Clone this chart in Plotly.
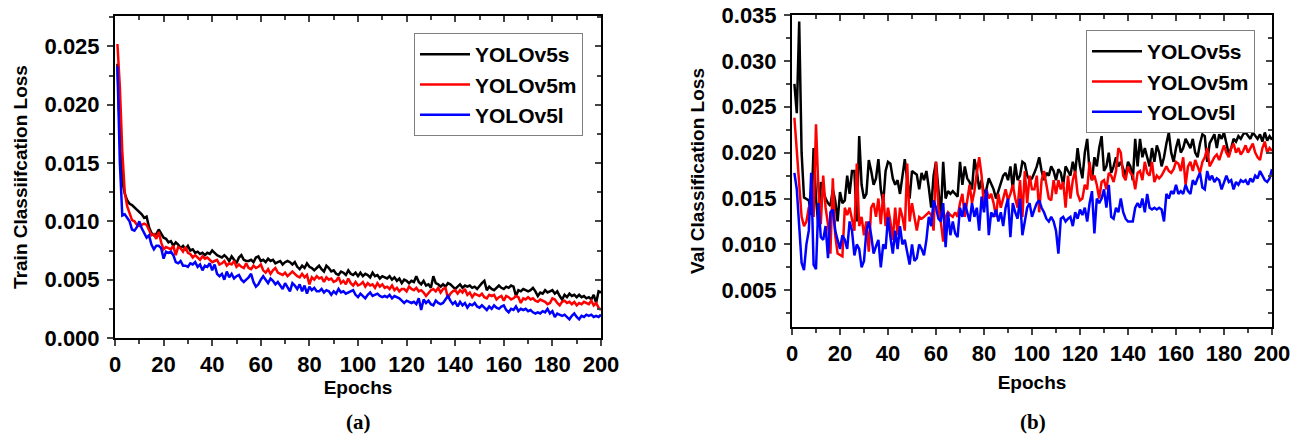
import plotly.graph_objects as go

epochs = list(range(1, 201))

# Training classification loss per epoch
train_v5s = [
    0.0235, 0.0175, 0.0135, 0.0124, 0.0118, 0.0115, 0.0114, 0.0112, 0.0110, 0.0108,
    0.0106, 0.0103, 0.0104, 0.0095, 0.0090, 0.0088, 0.0089, 0.0093, 0.0090, 0.0086,
    0.0085, 0.0082, 0.0083, 0.0079, 0.0082, 0.0080, 0.0077, 0.0079, 0.0076, 0.0079,
    0.0075, 0.0076, 0.0073, 0.0074, 0.0072, 0.0073, 0.0071, 0.0073, 0.0072, 0.0075,
    0.0073, 0.0071, 0.0070, 0.0069, 0.0071, 0.0069, 0.0066, 0.0070, 0.0067, 0.0064,
    0.0069, 0.0071, 0.0067, 0.0066, 0.0066, 0.0067, 0.0065, 0.0069, 0.0070, 0.0066,
    0.0067, 0.0065, 0.0068, 0.0066, 0.0067, 0.0064, 0.0065, 0.0066, 0.0063, 0.0065,
    0.0066, 0.0065, 0.0063, 0.0065, 0.0061, 0.0059, 0.0062, 0.0060, 0.0064, 0.0061,
    0.0060, 0.0058, 0.0060, 0.0062, 0.0059, 0.0057, 0.0062, 0.0060, 0.0057, 0.0058,
    0.0055, 0.0054, 0.0057, 0.0056, 0.0054, 0.0058, 0.0055, 0.0054, 0.0056, 0.0053,
    0.0056, 0.0053, 0.0055, 0.0054, 0.0052, 0.0056, 0.0053, 0.0054, 0.0051, 0.0053,
    0.0052, 0.0051, 0.0053, 0.0050, 0.0052, 0.0049, 0.0051, 0.0047, 0.0050, 0.0049,
    0.0047, 0.0049, 0.0048, 0.0053, 0.0048, 0.0046, 0.0049, 0.0045, 0.0046, 0.0043,
    0.0053, 0.0047, 0.0046, 0.0044, 0.0046, 0.0044, 0.0047, 0.0046, 0.0044, 0.0042,
    0.0044, 0.0046, 0.0043, 0.0045, 0.0044, 0.0045, 0.0043, 0.0044, 0.0042, 0.0045,
    0.0047, 0.0049, 0.0041, 0.0044, 0.0042, 0.0041, 0.0043, 0.0045, 0.0043, 0.0042,
    0.0044, 0.0043, 0.0045, 0.0044, 0.0036, 0.0041, 0.0040, 0.0042, 0.0041, 0.0040,
    0.0041, 0.0043, 0.0040, 0.0036, 0.0039, 0.0038, 0.0041, 0.0039, 0.0040, 0.0041,
    0.0038, 0.0040, 0.0036, 0.0033, 0.0037, 0.0035, 0.0038, 0.0036, 0.0037, 0.0035,
    0.0037, 0.0035, 0.0036, 0.0034, 0.0035, 0.0033, 0.0037, 0.0030, 0.0040, 0.0039,
]
train_v5m = [
    0.0252, 0.0215, 0.0160, 0.0125, 0.0113, 0.0106, 0.0101, 0.0100, 0.0097, 0.0096,
    0.0097, 0.0098, 0.0097, 0.0093, 0.0088, 0.0089, 0.0085, 0.0091, 0.0082, 0.0076,
    0.0078, 0.0077, 0.0076, 0.0079, 0.0071, 0.0078, 0.0077, 0.0074, 0.0078, 0.0073,
    0.0072, 0.0069, 0.0071, 0.0069, 0.0067, 0.0070, 0.0068, 0.0069, 0.0067, 0.0065,
    0.0066, 0.0067, 0.0063, 0.0064, 0.0066, 0.0062, 0.0064, 0.0063, 0.0066, 0.0061,
    0.0063, 0.0061, 0.0060, 0.0064, 0.0060, 0.0059, 0.0062, 0.0060, 0.0061, 0.0063,
    0.0058, 0.0056, 0.0059, 0.0055, 0.0058, 0.0060, 0.0056, 0.0055, 0.0054, 0.0056,
    0.0053, 0.0055, 0.0057, 0.0055, 0.0053, 0.0052, 0.0055, 0.0052, 0.0054, 0.0046,
    0.0052, 0.0050, 0.0053, 0.0051, 0.0052, 0.0048, 0.0052, 0.0050, 0.0051, 0.0048,
    0.0049, 0.0052, 0.0047, 0.0049, 0.0046, 0.0051, 0.0047, 0.0045, 0.0048, 0.0045,
    0.0046, 0.0048, 0.0044, 0.0047, 0.0045, 0.0046, 0.0043, 0.0047, 0.0044, 0.0046,
    0.0043, 0.0044, 0.0042, 0.0045, 0.0041, 0.0043, 0.0040, 0.0042, 0.0042, 0.0040,
    0.0044, 0.0042, 0.0041, 0.0043, 0.0040, 0.0041, 0.0039, 0.0036, 0.0039, 0.0041,
    0.0042, 0.0040, 0.0043, 0.0039, 0.0042, 0.0043, 0.0034, 0.0038, 0.0040, 0.0041,
    0.0038, 0.0041, 0.0039, 0.0042, 0.0037, 0.0039, 0.0035, 0.0038, 0.0037, 0.0036,
    0.0038, 0.0035, 0.0034, 0.0037, 0.0036, 0.0037, 0.0033, 0.0035, 0.0036, 0.0032,
    0.0036, 0.0035, 0.0033, 0.0034, 0.0036, 0.0035, 0.0030, 0.0034, 0.0033, 0.0035,
    0.0033, 0.0034, 0.0032, 0.0031, 0.0033, 0.0032, 0.0031, 0.0029, 0.0030, 0.0034,
    0.0033, 0.0030, 0.0028, 0.0031, 0.0032, 0.0030, 0.0031, 0.0029, 0.0031, 0.0028,
    0.0030, 0.0029, 0.0031, 0.0030, 0.0029, 0.0032, 0.0028, 0.0030, 0.0026, 0.0024,
]
train_v5l = [
    0.0233, 0.0150, 0.0105, 0.0106, 0.0103, 0.0100, 0.0093, 0.0092, 0.0095, 0.0100,
    0.0094, 0.0090, 0.0086, 0.0088, 0.0080, 0.0076, 0.0079, 0.0079, 0.0077, 0.0068,
    0.0074, 0.0073, 0.0074, 0.0071, 0.0065, 0.0064, 0.0066, 0.0062, 0.0062, 0.0061,
    0.0064, 0.0063, 0.0065, 0.0061, 0.0063, 0.0058, 0.0062, 0.0061, 0.0064, 0.0058,
    0.0063, 0.0055, 0.0053, 0.0055, 0.0050, 0.0057, 0.0052, 0.0055, 0.0051, 0.0053,
    0.0054, 0.0050, 0.0048, 0.0050, 0.0052, 0.0055, 0.0048, 0.0044, 0.0046, 0.0050,
    0.0053, 0.0050, 0.0047, 0.0051, 0.0049, 0.0046, 0.0048, 0.0045, 0.0042, 0.0047,
    0.0044, 0.0040, 0.0047, 0.0045, 0.0042, 0.0046, 0.0040, 0.0045, 0.0038, 0.0044,
    0.0041, 0.0043, 0.0040, 0.0040, 0.0042, 0.0039, 0.0041, 0.0040, 0.0037, 0.0040,
    0.0038, 0.0042, 0.0039, 0.0040, 0.0038, 0.0039, 0.0040, 0.0041, 0.0037, 0.0035,
    0.0038, 0.0036, 0.0034, 0.0037, 0.0039, 0.0036, 0.0037, 0.0038, 0.0036, 0.0035,
    0.0036, 0.0035, 0.0037, 0.0034, 0.0036, 0.0035, 0.0034, 0.0032, 0.0030, 0.0032,
    0.0031, 0.0030, 0.0031, 0.0029, 0.0034, 0.0024, 0.0033, 0.0030, 0.0032, 0.0029,
    0.0028, 0.0032, 0.0030, 0.0029, 0.0030, 0.0033, 0.0036, 0.0032, 0.0029, 0.0031,
    0.0027, 0.0031, 0.0028, 0.0030, 0.0026, 0.0029, 0.0028, 0.0030, 0.0027, 0.0026,
    0.0028, 0.0026, 0.0024, 0.0027, 0.0025, 0.0028, 0.0026, 0.0025, 0.0027, 0.0028,
    0.0024, 0.0022, 0.0025, 0.0024, 0.0027, 0.0023, 0.0025, 0.0024, 0.0025, 0.0023,
    0.0024, 0.0022, 0.0021, 0.0022, 0.0021, 0.0023, 0.0022, 0.0025, 0.0021, 0.0023,
    0.0018, 0.0021, 0.0020, 0.0019, 0.0020, 0.0018, 0.0016, 0.0019, 0.0021, 0.0018,
    0.0016, 0.0019, 0.0018, 0.0020, 0.0019, 0.0020, 0.0018, 0.0019, 0.0018, 0.0020,
]

# Validation classification loss per epoch
val_v5s = [
    0.0275, 0.0243, 0.0343, 0.0200, 0.0151, 0.0149, 0.0148, 0.0132, 0.0205, 0.0150,
    0.0120, 0.0168, 0.0160, 0.0150, 0.0145, 0.0142, 0.0160, 0.0148, 0.0125, 0.0157,
    0.0145, 0.0148, 0.0175, 0.0155, 0.0180, 0.0180, 0.0125, 0.0218, 0.0165, 0.0150,
    0.0155, 0.0192, 0.0180, 0.0165, 0.0172, 0.0193, 0.0160, 0.0145, 0.0180, 0.0190,
    0.0188, 0.0172, 0.0165, 0.0170, 0.0155, 0.0175, 0.0193, 0.0170, 0.0150, 0.0180,
    0.0178, 0.0176, 0.0160, 0.0178, 0.0170, 0.0180, 0.0162, 0.0140, 0.0175, 0.0190,
    0.0160, 0.0130, 0.0190, 0.0150, 0.0158, 0.0155, 0.0158, 0.0155, 0.0152, 0.0190,
    0.0165, 0.0185, 0.0172, 0.0168, 0.0160, 0.0193, 0.0180, 0.0160, 0.0170, 0.0155,
    0.0160, 0.0172, 0.0165, 0.0160, 0.0150, 0.0158, 0.0165, 0.0175, 0.0178, 0.0170,
    0.0185, 0.0160, 0.0188, 0.0170, 0.0175, 0.0190, 0.0188, 0.0175, 0.0170, 0.0172,
    0.0178, 0.0185, 0.0195, 0.0180, 0.0170, 0.0178, 0.0175, 0.0185, 0.0180, 0.0170,
    0.0182, 0.0178, 0.0165, 0.0185, 0.0180, 0.0175, 0.0190, 0.0178, 0.0205, 0.0185,
    0.0172, 0.0200, 0.0215, 0.0180, 0.0170, 0.0195, 0.0185, 0.0205, 0.0218, 0.0180,
    0.0185, 0.0200, 0.0178, 0.0185, 0.0195, 0.0185, 0.0190, 0.0182, 0.0175, 0.0190,
    0.0185, 0.0170, 0.0215, 0.0185, 0.0215, 0.0195, 0.0205, 0.0195, 0.0185, 0.0205,
    0.0190, 0.0208, 0.0200, 0.0185, 0.0195, 0.0210, 0.0222, 0.0200, 0.0190, 0.0205,
    0.0215, 0.0200, 0.0205, 0.0215, 0.0210, 0.0205, 0.0215, 0.0200, 0.0195, 0.0210,
    0.0220, 0.0218, 0.0190, 0.0210, 0.0215, 0.0220, 0.0205, 0.0220, 0.0215, 0.0222,
    0.0210, 0.0198, 0.0205, 0.0215, 0.0212, 0.0218, 0.0215, 0.0220, 0.0222, 0.0218,
    0.0215, 0.0222, 0.0218, 0.0215, 0.0220, 0.0212, 0.0222, 0.0213, 0.0218, 0.0214,
]
val_v5m = [
    0.0238, 0.0200, 0.0160, 0.0130, 0.0120, 0.0125, 0.0140, 0.0145, 0.0130, 0.0231,
    0.0160, 0.0122, 0.0175, 0.0140, 0.0122, 0.0090, 0.0172, 0.0110, 0.0090, 0.0088,
    0.0087, 0.0140, 0.0132, 0.0140, 0.0128, 0.0115, 0.0188, 0.0120, 0.0130, 0.0110,
    0.0125, 0.0092, 0.0140, 0.0145, 0.0130, 0.0150, 0.0122, 0.0155, 0.0120, 0.0140,
    0.0125, 0.0105, 0.0140, 0.0110, 0.0140, 0.0130, 0.0115, 0.0188, 0.0125, 0.0145,
    0.0130, 0.0115, 0.0130, 0.0128, 0.0130, 0.0133, 0.0135, 0.0132, 0.0115, 0.0190,
    0.0140, 0.0125, 0.0103, 0.0130, 0.0135, 0.0132, 0.0130, 0.0135, 0.0130, 0.0145,
    0.0155, 0.0130, 0.0150, 0.0165, 0.0145, 0.0158, 0.0178, 0.0195, 0.0175, 0.0140,
    0.0160, 0.0150, 0.0155, 0.0145, 0.0130, 0.0155, 0.0140, 0.0150, 0.0160, 0.0148,
    0.0155, 0.0165, 0.0150, 0.0140, 0.0170, 0.0130, 0.0180, 0.0145, 0.0175, 0.0160,
    0.0160, 0.0175, 0.0135, 0.0170, 0.0180, 0.0165, 0.0150, 0.0148, 0.0170, 0.0155,
    0.0170, 0.0160, 0.0168, 0.0140, 0.0175, 0.0150, 0.0170, 0.0180, 0.0155, 0.0148,
    0.0150, 0.0165, 0.0160, 0.0190, 0.0170, 0.0175, 0.0165, 0.0150, 0.0168, 0.0170,
    0.0160, 0.0178, 0.0175, 0.0168, 0.0180, 0.0205, 0.0200, 0.0175, 0.0170, 0.0185,
    0.0178, 0.0175, 0.0160, 0.0178, 0.0180, 0.0170, 0.0190, 0.0178, 0.0175, 0.0190,
    0.0168, 0.0175, 0.0172, 0.0175, 0.0180, 0.0185, 0.0180, 0.0178, 0.0182, 0.0190,
    0.0188, 0.0180, 0.0195, 0.0165, 0.0185, 0.0190, 0.0180, 0.0192, 0.0185, 0.0178,
    0.0190, 0.0195, 0.0205, 0.0185, 0.0190, 0.0195, 0.0198, 0.0192, 0.0200, 0.0208,
    0.0200, 0.0195, 0.0205, 0.0210, 0.0200, 0.0205, 0.0198, 0.0202, 0.0208, 0.0200,
    0.0205, 0.0210, 0.0200, 0.0195, 0.0192, 0.0205, 0.0212, 0.0200, 0.0205, 0.0202,
]
val_v5l = [
    0.0178, 0.0160, 0.0120, 0.0080, 0.0072, 0.0100, 0.0115, 0.0178, 0.0078, 0.0073,
    0.0145, 0.0108, 0.0105, 0.0120, 0.0085, 0.0135, 0.0138, 0.0115, 0.0105, 0.0095,
    0.0110, 0.0105, 0.0095, 0.0125, 0.0115, 0.0088, 0.0100, 0.0095, 0.0075, 0.0082,
    0.0115, 0.0125, 0.0110, 0.0090, 0.0098, 0.0105, 0.0075, 0.0100, 0.0095, 0.0130,
    0.0108, 0.0090, 0.0115, 0.0095, 0.0120, 0.0100, 0.0105, 0.0092, 0.0078, 0.0100,
    0.0082, 0.0085, 0.0100, 0.0095, 0.0088, 0.0105, 0.0130, 0.0120, 0.0148, 0.0140,
    0.0128, 0.0125, 0.0145, 0.0097, 0.0135, 0.0110, 0.0125, 0.0112, 0.0108, 0.0140,
    0.0130, 0.0145, 0.0135, 0.0125, 0.0145, 0.0130, 0.0140, 0.0115, 0.0152, 0.0135,
    0.0160, 0.0110, 0.0135, 0.0130, 0.0138, 0.0125, 0.0135, 0.0120, 0.0140, 0.0150,
    0.0108, 0.0145, 0.0135, 0.0128, 0.0150, 0.0110, 0.0125, 0.0140, 0.0145, 0.0130,
    0.0138, 0.0145, 0.0148, 0.0140, 0.0135, 0.0128, 0.0125, 0.0130, 0.0125, 0.0115,
    0.0090, 0.0128, 0.0130, 0.0125, 0.0128, 0.0130, 0.0120, 0.0135, 0.0128, 0.0138,
    0.0132, 0.0140, 0.0125, 0.0145, 0.0158, 0.0112, 0.0150, 0.0145, 0.0150, 0.0160,
    0.0140, 0.0165, 0.0130, 0.0128, 0.0140, 0.0135, 0.0150, 0.0135, 0.0128, 0.0125,
    0.0125, 0.0125, 0.0140, 0.0145, 0.0140, 0.0150, 0.0135, 0.0155, 0.0140, 0.0138,
    0.0140, 0.0138, 0.0140, 0.0138, 0.0125, 0.0155, 0.0150, 0.0158, 0.0155, 0.0165,
    0.0155, 0.0158, 0.0155, 0.0165, 0.0158, 0.0155, 0.0170, 0.0165, 0.0172, 0.0178,
    0.0162, 0.0160, 0.0180, 0.0170, 0.0175, 0.0168, 0.0172, 0.0170, 0.0160, 0.0168,
    0.0175, 0.0168, 0.0170, 0.0160, 0.0168, 0.0165, 0.0170, 0.0168, 0.0170, 0.0165,
    0.0172, 0.0168, 0.0175, 0.0172, 0.0180, 0.0175, 0.0170, 0.0168, 0.0172, 0.0182,
]

model_names = ["YOLOv5s", "YOLOv5m", "YOLOv5l"]
line_colors = ["#000000", "#ff0000", "#0000ff"]

x_ticks = list(range(0, 201, 20))
train_ticks = [0.000, 0.005, 0.010, 0.015, 0.020, 0.025]
val_ticks = [0.005, 0.010, 0.015, 0.020, 0.025, 0.030, 0.035]

FONT = "Liberation Sans"
W, H = 1303, 437


def px_x(p):
    return p / W


def px_y(p):
    return 1 - p / H


fig = go.Figure()

for name, color, ys in zip(model_names, line_colors, [train_v5s, train_v5m, train_v5l]):
    fig.add_trace(go.Scatter(x=epochs, y=ys, mode="lines", name=name,
                             line=dict(color=color, width=2.5),
                             xaxis="x", yaxis="y", legend="legend"))
for name, color, ys in zip(model_names, line_colors, [val_v5s, val_v5m, val_v5l]):
    fig.add_trace(go.Scatter(x=epochs, y=ys, mode="lines", name=name,
                             line=dict(color=color, width=2.5),
                             xaxis="x2", yaxis="y2", legend="legend2"))

# empty traces so the mirrored tick axes (top / right) are drawn
fig.add_trace(go.Scatter(x=[], y=[], xaxis="x3", yaxis="y3", showlegend=False, hoverinfo="skip"))
fig.add_trace(go.Scatter(x=[], y=[], xaxis="x4", yaxis="y4", showlegend=False, hoverinfo="skip"))

tick_font = dict(family=FONT, size=22, color="black", weight="bold")
title_font = dict(family=FONT, size=19, color="black", weight="bold")

left_dom_x = [px_x(115), px_x(601)]
left_dom_y = [px_y(338), px_y(16)]
right_dom_x = [px_x(792), px_x(1272)]
right_dom_y = [px_y(327), px_y(15)]

train_range = [0, 0.0276]
val_range = [0.001, 0.035]


def main_x(domain, anchor, standoff):
    return dict(domain=domain, anchor=anchor, range=[0, 200], tickmode="array",
                tickvals=x_ticks, ticks="outside", ticklen=6, tickwidth=2,
                showline=True, linewidth=2, linecolor="black", mirror=True,
                showgrid=False, zeroline=False, tickfont=tick_font, automargin=False,
                minor=dict(dtick=10, tick0=0, ticks="outside", ticklen=4, tickwidth=2,
                           showgrid=False),
                title=dict(text="Epochs", font=title_font, standoff=standoff))


def main_y(domain, anchor, rng, ticks, title):
    return dict(domain=domain, anchor=anchor, range=rng, tickmode="array",
                tickvals=ticks, tickformat=".3f", ticks="outside", ticklen=6,
                tickwidth=2, showline=True, linewidth=2, linecolor="black",
                mirror=True, showgrid=False, zeroline=False, tickfont=tick_font,
                ticklabelstandoff=3, automargin=False,
                minor=dict(dtick=0.0025, tick0=0, ticks="outside", ticklen=4,
                           tickwidth=2, showgrid=False),
                title=dict(text=title, font=title_font, standoff=12))


def mirror_x(over, anchor, domain):
    return dict(overlaying=over, anchor=anchor, side="top", domain=domain,
                range=[0, 200], tickmode="array", tickvals=x_ticks,
                ticks="inside", ticklen=6, tickwidth=2, showticklabels=False,
                showline=False, showgrid=False, zeroline=False, automargin=False,
                minor=dict(dtick=10, tick0=0, ticks="inside", ticklen=4,
                           tickwidth=2, showgrid=False))


def mirror_y(over, anchor, rng, ticks):
    return dict(overlaying=over, anchor=anchor, side="right", range=rng,
                tickmode="array", tickvals=ticks, ticks="inside", ticklen=6,
                tickwidth=2, showticklabels=False, showline=False,
                showgrid=False, zeroline=False, automargin=False,
                minor=dict(dtick=0.0025, tick0=0, ticks="inside", ticklen=4,
                           tickwidth=2, showgrid=False))


legend_style = dict(font=dict(family=FONT, size=21, color="black", weight="bold"),
                    bgcolor="white", bordercolor="#7f7f7f", borderwidth=1,
                    xanchor="left", yanchor="top", itemwidth=50,
                    tracegroupgap=0)

fig.update_layout(
    width=W, height=H,
    margin=dict(l=0, r=0, t=0, b=0, autoexpand=False),
    paper_bgcolor="white", plot_bgcolor="white",
    showlegend=True,
    xaxis=main_x(left_dom_x, "y", 2),
    yaxis=main_y(left_dom_y, "x", train_range, train_ticks, "Train Classiifcation Loss"),
    xaxis2=main_x(right_dom_x, "y2", 10),
    yaxis2=main_y(right_dom_y, "x2", val_range, val_ticks, "Val Classification Loss"),
    xaxis3=mirror_x("x", "y", left_dom_x),
    yaxis3=mirror_y("y", "x", train_range, train_ticks),
    xaxis4=mirror_x("x2", "y2", right_dom_x),
    yaxis4=mirror_y("y2", "x2", val_range, val_ticks),
    legend=dict(x=px_x(414), y=px_y(33), **legend_style),
    legend2=dict(x=px_x(1086), y=px_y(30), **legend_style),
    annotations=[
        dict(text="(a)", x=px_x(358), y=px_y(422), xref="paper", yref="paper",
             showarrow=False, xanchor="center", yanchor="middle",
             font=dict(family="Liberation Serif", size=21, color="black", weight="bold")),
        dict(text="(b)", x=px_x(1033), y=px_y(422), xref="paper", yref="paper",
             showarrow=False, xanchor="center", yanchor="middle",
             font=dict(family="Liberation Serif", size=21, color="black", weight="bold")),
    ],
)

fig.write_html("out.html")
